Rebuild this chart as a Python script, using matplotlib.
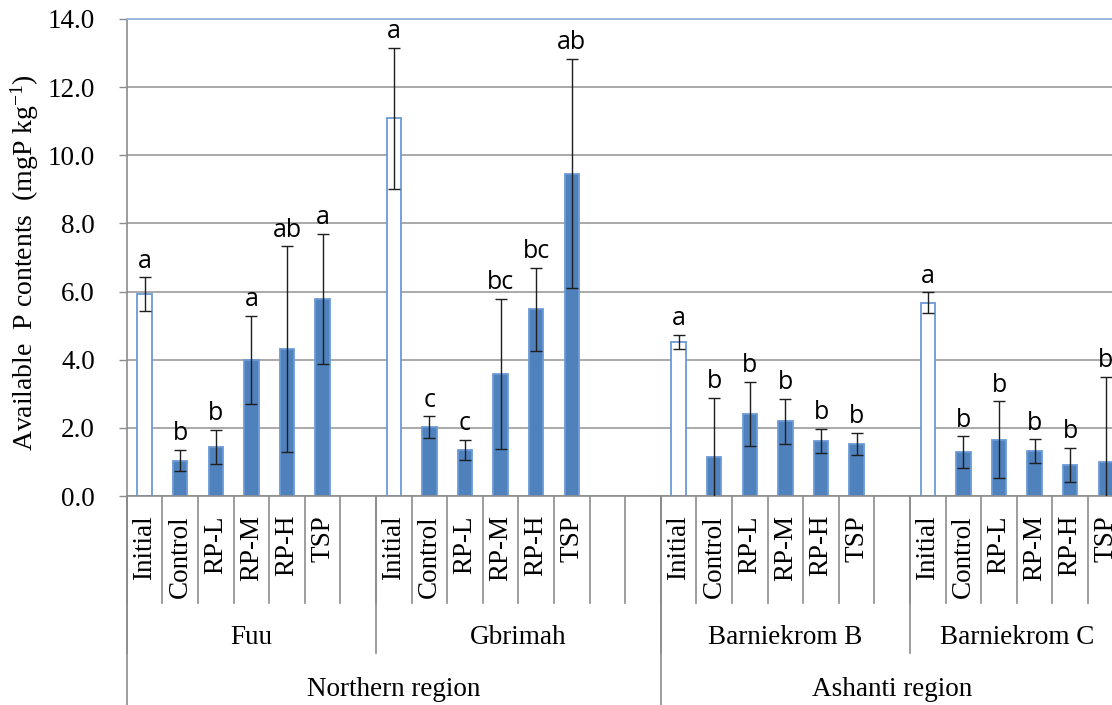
import matplotlib
matplotlib.use('Agg')
import numpy as np
import matplotlib.pyplot as plt
from matplotlib.transforms import blended_transform_factory

plt.rcParams['font.family'] = ['Liberation Serif', 'DejaVu Serif']
plt.rcParams['mathtext.default'] = 'regular'

# Treatments and grouping of the category axis
treatments = ['Initial', 'Control', 'RP-L', 'RP-M', 'RP-H', 'TSP']
sites = ['Fuu', 'Gbrimah', 'Barniekrom B', 'Barniekrom C']
regions = ['Northern region', 'Ashanti region']
region_sites = [[0, 1], [2, 3]]
site_slots = [7, 8, 7, 6]   # category slots per site (empty slots included)

# Available P (mgP/kg): means, error bars and significance letters
fuu_mean = [5.93, 1.04, 1.44, 3.99, 4.31, 5.79]
fuu_err = [0.49, 0.32, 0.50, 1.29, 3.02, 1.91]
fuu_sig = ['a', 'b', 'b', 'a', 'ab', 'a']

gbrimah_mean = [11.09, 2.02, 1.36, 3.59, 5.48, 9.46]
gbrimah_err = [2.07, 0.32, 0.29, 2.20, 1.21, 3.36]
gbrimah_sig = ['a', 'c', 'c', 'bc', 'bc', 'ab']

barn_b_mean = [4.52, 1.13, 2.42, 2.19, 1.61, 1.53]
barn_b_err = [0.20, 1.76, 0.94, 0.67, 0.36, 0.33]
barn_b_sig = ['a', 'b', 'b', 'b', 'b', 'b']

barn_c_mean = [5.67, 1.29, 1.65, 1.32, 0.92, 1.01]
barn_c_err = [0.31, 0.46, 1.13, 0.34, 0.50, 2.48]
barn_c_sig = ['a', 'b', 'b', 'b', 'b', 'b']

means = [fuu_mean, gbrimah_mean, barn_b_mean, barn_c_mean]
errs = [fuu_err, gbrimah_err, barn_b_err, barn_c_err]
sigs = [fuu_sig, gbrimah_sig, barn_b_sig, barn_c_sig]

BAR_BLUE = '#4F81BD'
EDGE_BLUE = '#6C9AD6'
GRID = '#A3A3A3'
AXIS = '#8C8C8C'

fig = plt.figure(figsize=(11.12, 7.05), dpi=100)
n_slots = sum(site_slots)
ax = fig.add_axes([126.8 / 1112, 209 / 705, n_slots * 35.6 / 1112, 477 / 705])

starts = np.concatenate([[0], np.cumsum(site_slots)])
for k in range(len(sites)):
    x = starts[k] + np.arange(len(treatments)) + 0.5
    face = ['white'] + [BAR_BLUE] * (len(treatments) - 1)
    edge = [EDGE_BLUE] * len(treatments)
    ax.bar(x, means[k], width=0.41, color=face, edgecolor=edge,
           linewidth=1.3, zorder=2)
    ax.errorbar(x, means[k], yerr=errs[k], fmt='none', ecolor='#1E1E1E',
                elinewidth=1.0, capsize=4.5, capthick=1.0, zorder=3)
    for xi, m, e, s in zip(x, means[k], errs[k], sigs[k]):
        ax.annotate(s, (xi, m + e), xytext=(0, 7), textcoords='offset points',
                    ha='center', va='baseline', fontsize=18,
                    family=['Open Sans', 'DejaVu Sans'], color='black')

ax.set_xlim(0, n_slots)
ax.set_ylim(0, 14)
ax.set_yticks(np.arange(0, 14.1, 2.0))
ax.set_yticklabels([f'{v:.1f}' for v in np.arange(0, 14.1, 2.0)])
ax.tick_params(axis='y', direction='out', length=6, width=1.0, color=AXIS,
               pad=17, labelsize=19.5)
ax.set_xticks([])
ax.set_axisbelow(True)
ax.yaxis.grid(True, color=GRID, linewidth=1.3)

ax.spines['top'].set_color('#95B6E0')
ax.spines['top'].set_linewidth(1.3)
ax.spines['right'].set_visible(False)
for side in ['left', 'bottom']:
    ax.spines[side].set_color(AXIS)
    ax.spines[side].set_linewidth(1.2)

# Multi-level category axis below the plot
trans = blended_transform_factory(ax.transData, ax.transAxes)
px = 1.0 / 477   # one pixel as an axes fraction
line_kw = dict(transform=trans, color=AXIS, linewidth=1.2, clip_on=False)

for b in range(n_slots + 1):
    ax.plot([b, b], [0, -107 * px], **line_kw)
for b in starts:
    ax.plot([b, b], [0, -157 * px], **line_kw)
region_bounds = [starts[region_sites[0][0]], starts[region_sites[1][0]], starts[-1]]
for b in region_bounds:
    ax.plot([b, b], [0, -215 * px], **line_kw)

for k in range(len(sites)):
    for i, t in enumerate(treatments):
        ax.text(starts[k] + i + 0.5, -19 * px, t, transform=trans,
                rotation=90, ha='center', va='top', fontsize=19.5)
    ax.text((starts[k] + starts[k + 1]) / 2, -142 * px, sites[k],
            transform=trans, ha='center', va='center', fontsize=19.5)

for r, idx in enumerate(region_sites):
    lo = starts[idx[0]]
    hi = starts[idx[-1] + 1]
    ax.text((lo + hi) / 2, -194 * px, regions[r], transform=trans,
            ha='center', va='center', fontsize=19.5)

fig.text(25 / 1112, 1 - 263 / 705,
         'Available  P contents  (mgP kg$^{-1}$)',
         rotation=90, ha='center', va='center', fontsize=20)

fig.savefig('out.png', dpi=100)
